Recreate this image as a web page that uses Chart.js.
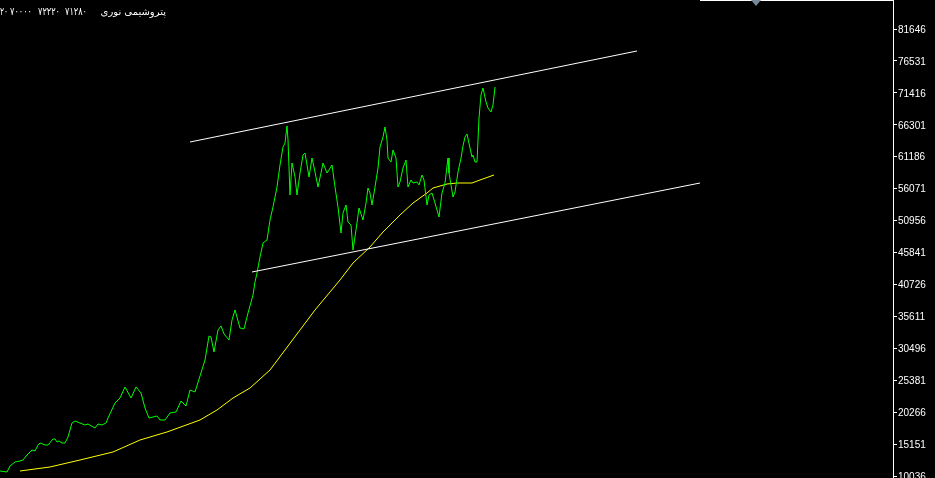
<!DOCTYPE html>
<html>
<head>
<meta charset="utf-8">
<script src="https://cdn.jsdelivr.net/npm/chart.js@4.4.1/dist/chart.umd.min.js"></script>
<style>
html,body{margin:0;padding:0;background:#000;}
#wrap{width:935px;height:478px;position:relative;}
</style>
</head>
<body>
<div id="wrap"><canvas id="c" width="935" height="478"></canvas></div>
<script>
// ---- data ----
const titleName = "پتروشیمی نوری";
const titleNumbers = ["۷۱۲۸۰", "۷۲۲۲۰", "۷۰۰۰۰", "۲۰"];
const tickValues = [10036,15151,20266,25381,30496,35611,40726,45841,50956,56071,61186,66301,71416,76531,81646];
const tickLabels = ["10036","15151","20266","25381","30496","35611","40726","45841","50956","56071","61186","66301","71416","76531","81646"];

const priceBars = [0,7,10,15,20,23,27,32,35,38,40,45,48,53,55,57,59,62,65,68,72,75,80,85,88,95,98,102,106,108,115,120,125,131,136,141,145,149,157,160,165,170,176,181,186,190,195,200,205,209,211,214,218,221,224,229,232,235,240,244,248,253,255,257,260,263,267,270,273,277,280,283,285,287,288,290,292,295,297,300,303,305,309,312,315,318,321,323,327,329,332,335,338,341,343,346,348,351,353,356,359,362,363,366,368,370,372,375,378,380,383,385,387,388,391,393,396,398,400,403,406,408,411,413,417,419,422,424,427,429,432,435,439,442,445,448,449,453,455,458,461,463,465,467,470,472,473,475,477,479,481,483,486,488,491,493,495];
const priceClose = [10838,10678,11639,12280,12440,12600,13401,14202,14042,15003,15323,15003,15003,15964,15964,15484,15644,15323,15323,16285,18527,18848,18527,18207,18367,17726,18367,18207,18527,19328,21731,22532,24295,22532,24295,23333,20930,19328,19649,19008,19008,20129,20290,22052,21251,23814,23494,26057,28620,32465,32305,29902,33426,34067,32785,31824,35028,36630,33746,33586,36149,39033,41116,42557,45121,47363,47844,51048,53131,56335,59859,62743,63383,66107,63864,55053,60179,57937,55053,58577,61461,61781,57937,60980,58738,56335,58577,60179,58577,59058,59859,56335,53131,48965,52169,53451,50728,50247,46242,49446,52970,51529,51048,53771,56174,55373,53451,56335,59378,62743,64345,65947,63864,60980,60340,62262,60980,56335,57136,59378,60660,56335,57456,56975,57136,56655,58257,57456,53451,55053,55373,53771,51529,55373,56975,60980,58577,54733,55534,58738,60980,62903,64345,64825,62582,61141,61461,60340,60340,67388,71073,72194,69952,68990,68350,69471,72355];

const maBars = [20,50,80,113,140,167,200,217,233,250,270,285,300,315,330,340,353,370,383,400,413,427,433,447,457,472,480,494];
const maValues = [10838,11479,12600,13882,15804,17086,19008,20610,22532,24134,27018,30222,33426,36630,39514,41436,44159,46723,49126,51849,53771,55373,56174,56815,56975,56975,57456,58257];

const upperTrendBars = [190,637];
const upperTrendValues = [63543,78122];
const lowerTrendBars = [252,700];
const lowerTrendValues = [42717,56975];

function pts(xs, ys){ return xs.map((x,i)=>({x:x,y:ys[i]})); }

const decorPlugin = {
  id:'decor',
  beforeDraw(chart){
    const ctx = chart.ctx;
    ctx.save();
    ctx.fillStyle = '#000';
    ctx.fillRect(0,0,chart.width,chart.height);
    ctx.restore();
  },
  afterDraw(chart){
    const ctx = chart.ctx;
    const a = chart.chartArea;
    const ys = chart.scales.y;
    ctx.save();
    // top border (right part)
    ctx.strokeStyle = '#fff';
    ctx.lineWidth = 1;
    ctx.beginPath();
    ctx.moveTo(700,0.5);
    ctx.lineTo(a.right+0.5,0.5);
    ctx.stroke();
    // shift marker
    ctx.fillStyle = '#778899';
    ctx.beginPath();
    ctx.moveTo(751,0);
    ctx.lineTo(761,0);
    ctx.lineTo(756,6);
    ctx.closePath();
    ctx.fill();
    // axis labels
    ctx.fillStyle = '#fff';
    ctx.font = '10px "Liberation Sans", Arial, sans-serif';
    ctx.textAlign = 'left';
    ctx.textBaseline = 'middle';
    tickValues.forEach((v,i)=>{
      const y = ys.getPixelForValue(v);
      ctx.fillText(tickLabels[i], a.right + 5, y + 1);
    });
    // title
    ctx.font = '10px "DejaVu Sans"';
    ctx.direction = 'rtl';
    ctx.textAlign = 'right';
    ctx.textBaseline = 'alphabetic';
    ctx.fillText(titleName, 166, 15);
    ctx.direction = 'ltr';
    ctx.textAlign = 'left';
    ctx.font = '11px "DejaVu Sans"';
    const numLeft = [65, 38, 10, 0];
    const numWidth = [22, 22, 22, 8];
    titleNumbers.forEach((t,i)=>{ ctx.fillText(t, numLeft[i], 15, numWidth[i]); });
    ctx.restore();
  }
};

new Chart(document.getElementById('c'), {
  type:'line',
  data:{
    datasets:[
      {data:pts(upperTrendBars,upperTrendValues), borderColor:'#ffffff', borderWidth:1},
      {data:pts(lowerTrendBars,lowerTrendValues), borderColor:'#ffffff', borderWidth:1},
      {data:pts(priceBars,priceClose), borderColor:'#00ff00', borderWidth:1},
      {data:pts(maBars,maValues), borderColor:'#ffff00', borderWidth:1}
    ]
  },
  options:{
    responsive:false,
    animation:false,
    devicePixelRatio:1,
    layout:{padding:0},
    elements:{point:{radius:0}, line:{tension:0}},
    plugins:{legend:{display:false}, tooltip:{enabled:false}},
    scales:{
      x:{type:'linear', display:false, min:0, max:893},
      y:{
        type:'linear', position:'right', min:9716, max:86292,
        afterBuildTicks(s){ s.ticks = tickValues.map(v=>({value:v})); },
        afterFit(s){ s.width = 42; },
        grid:{drawOnChartArea:false, drawTicks:true, tickLength:4, color:'#ffffff', lineWidth:1},
        border:{display:true, color:'#ffffff', width:1},
        ticks:{display:false, autoSkip:false}
      }
    }
  },
  plugins:[decorPlugin]
});
</script>
</body>
</html>
